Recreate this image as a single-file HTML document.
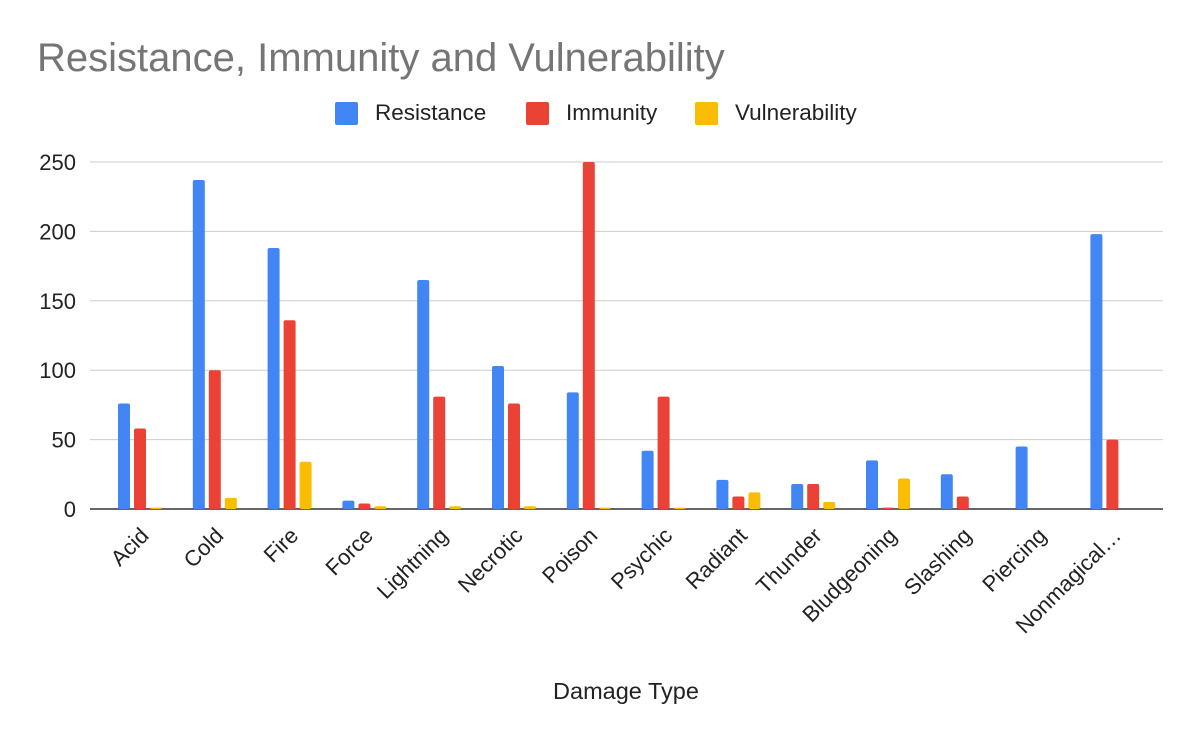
<!DOCTYPE html>
<html><head><meta charset="utf-8"><style>
body{margin:0;background:#fff;}
svg{display:block;font-family:"Liberation Sans",Arial,sans-serif;}
</style></head><body>
<svg id="chart" width="1200" height="742" viewBox="0 0 1200 742">
<rect width="1200" height="742" fill="#fff"/>
<text x="37" y="71" font-size="40" fill="#757575">Resistance, Immunity and Vulnerability</text>
<g>
<g><rect x="335" y="102" width="23" height="23" rx="2" fill="#4285f4"/><text x="375" y="120" font-size="22.5" fill="#222">Resistance</text></g>
<g><rect x="526" y="102" width="23" height="23" rx="2" fill="#ea4335"/><text x="566" y="120" font-size="22.5" fill="#222">Immunity</text></g>
<g><rect x="695" y="102" width="23" height="23" rx="2" fill="#fbbc04"/><text x="735" y="120" font-size="22.5" fill="#222">Vulnerability</text></g>
</g>
<g id="grid"></g>
<g id="bars"></g>
<g id="xlabels"></g>
<text x="626" y="699" font-size="23.5" fill="#222" text-anchor="middle">Damage Type</text>
</svg>
<script>
const categories=["Acid","Cold","Fire","Force","Lightning","Necrotic","Poison","Psychic","Radiant","Thunder","Bludgeoning","Slashing","Piercing","Nonmagical…"];
const resistance=[76,237,188,6,165,103,84,42,21,18,35,25,45,198];
const immunity=[58,100,136,4,81,76,260,81,9,18,1,9,0,50];
const vulnerability=[1,8,34,2,2,2,1,1,12,5,22,0,0,0];
const yTicks=[0,50,100,150,200,250];
const NS="http://www.w3.org/2000/svg";
const y0=509,yMax=250,yTop=162,left=90,right=1163,band0=102.6,step=74.8;
function y(v){return y0-(Math.min(v,yMax)/yMax)*(y0-yTop);}
function xc(i){return band0+step*(i+0.5);}
const grid=document.getElementById('grid');
yTicks.forEach(t=>{
 const l=document.createElementNS(NS,'line');
 
 
 l.setAttribute('x1',left);l.setAttribute('x2',right);l.setAttribute('y1',y(t));l.setAttribute('y2',y(t));
 l.setAttribute('stroke',t===0?'#333':'#ccc');l.setAttribute('stroke-width',t===0?1.5:1);
 grid.appendChild(l);
 const tx=document.createElementNS(NS,'text');
 
 
 tx.setAttribute('x',76);tx.setAttribute('y',y(t)+8);tx.setAttribute('text-anchor','end');
 tx.setAttribute('font-size','22');tx.setAttribute('fill','#222');tx.textContent=t;
 grid.appendChild(tx);
});
const bars=document.getElementById('bars');
const series=[[resistance,'#4285f4','resistance'],[immunity,'#ea4335','immunity'],[vulnerability,'#fbbc04','vulnerability']];
const bw=12,gap=4;
categories.forEach((c,i)=>{
 series.forEach((s,k)=>{
  const v=s[0][i];
  if(v<=0)return;
  const r=document.createElementNS(NS,'rect');
  
  
  const x=xc(i)-(bw*1.5+gap)+k*(bw+gap);
  r.setAttribute('x',x);r.setAttribute('y',y(v));r.setAttribute('width',bw);r.setAttribute('height',Math.max(y0-y(v),1));
  r.setAttribute('rx',2);r.setAttribute('fill',s[1]);
  bars.appendChild(r);
 });
 const t=document.createElementNS(NS,'text');
 
 
 t.setAttribute('text-anchor','end');t.setAttribute('font-size','22');t.setAttribute('fill','#222');
 t.setAttribute('transform','translate('+(xc(i)+10)+',537) rotate(-45)');
 t.textContent=c;
 document.getElementById('xlabels').appendChild(t);
});
</script>
</body></html>
